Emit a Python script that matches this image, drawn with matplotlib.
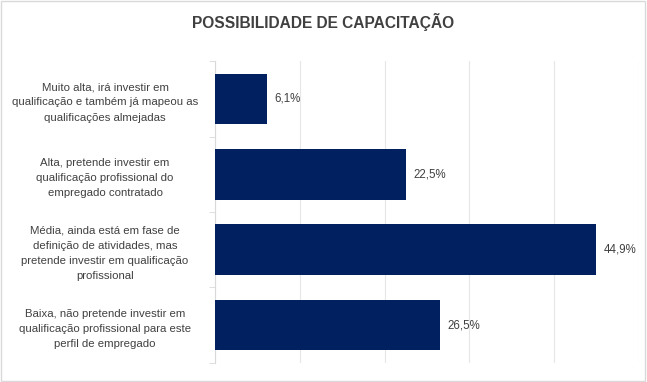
import matplotlib.pyplot as plt
import numpy as np

# dados
categorias = [
    "Muito alta, irá investir em\nqualificação e também já mapeou as\nqualificações almejadas",
    "Alta, pretende investir em\nqualificação profissional do\nempregado contratado",
    "Média, ainda está em fase de\ndefinição de atividades, mas\npretende investir em qualificação\nprofissional",
    "Baixa, não pretende investir em\nqualificação profissional para este\nperfil de empregado",
]
valores = [6.1, 22.5, 44.9, 26.5]
rotulos = ["6,1%", "22,5%", "44,9%", "26,5%"]

plt.rcParams['font.family'] = ['Liberation Sans', 'DejaVu Sans']

fig = plt.figure(figsize=(6.47, 3.82), dpi=100)
ax = fig.add_axes([0.332, 0.050, 0.656, 0.790])

y = np.arange(len(categorias))
ax.barh(y, valores, height=0.67, color="#002060", zorder=3)
for yi, v, r in zip(y, valores, rotulos):
    ax.text(v + 0.9, yi, r, va="center", ha="left", fontsize=8.3, color="#404040")

ax.set_xlim(0, 50)
ax.set_ylim(len(categorias) - 0.5, -0.5)
ax.set_xticks(np.arange(0, 51, 10))
ax.xaxis.grid(True, color="#e6e6e6", linewidth=0.8, zorder=0)
ax.tick_params(axis="x", length=0, labelbottom=False)

ax.set_yticks(y)
ax.set_yticklabels(categorias, fontsize=8.2, color="#404040", ha="center", linespacing=1.65)
ax.tick_params(axis="y", length=0, pad=79)
ax.set_yticks(np.arange(-0.5, len(categorias)), minor=True)
ax.tick_params(axis="y", which="minor", length=4, color="#d9d9d9")

for s in ["top", "right", "bottom"]:
    ax.spines[s].set_visible(False)
ax.spines["left"].set_color("#d9d9d9")

fig.text(0.5, 0.942, "POSSIBILIDADE DE CAPACITAÇÃO", ha="center", va="center",
         fontsize=11.2, fontweight="bold", color="#404040")

fig.patches.append(plt.Rectangle((0.002, 0.003), 0.995, 0.994, transform=fig.transFigure,
                                 fill=False, edgecolor="#d9d9d9", linewidth=1))

fig.savefig("out.png", dpi=100)
